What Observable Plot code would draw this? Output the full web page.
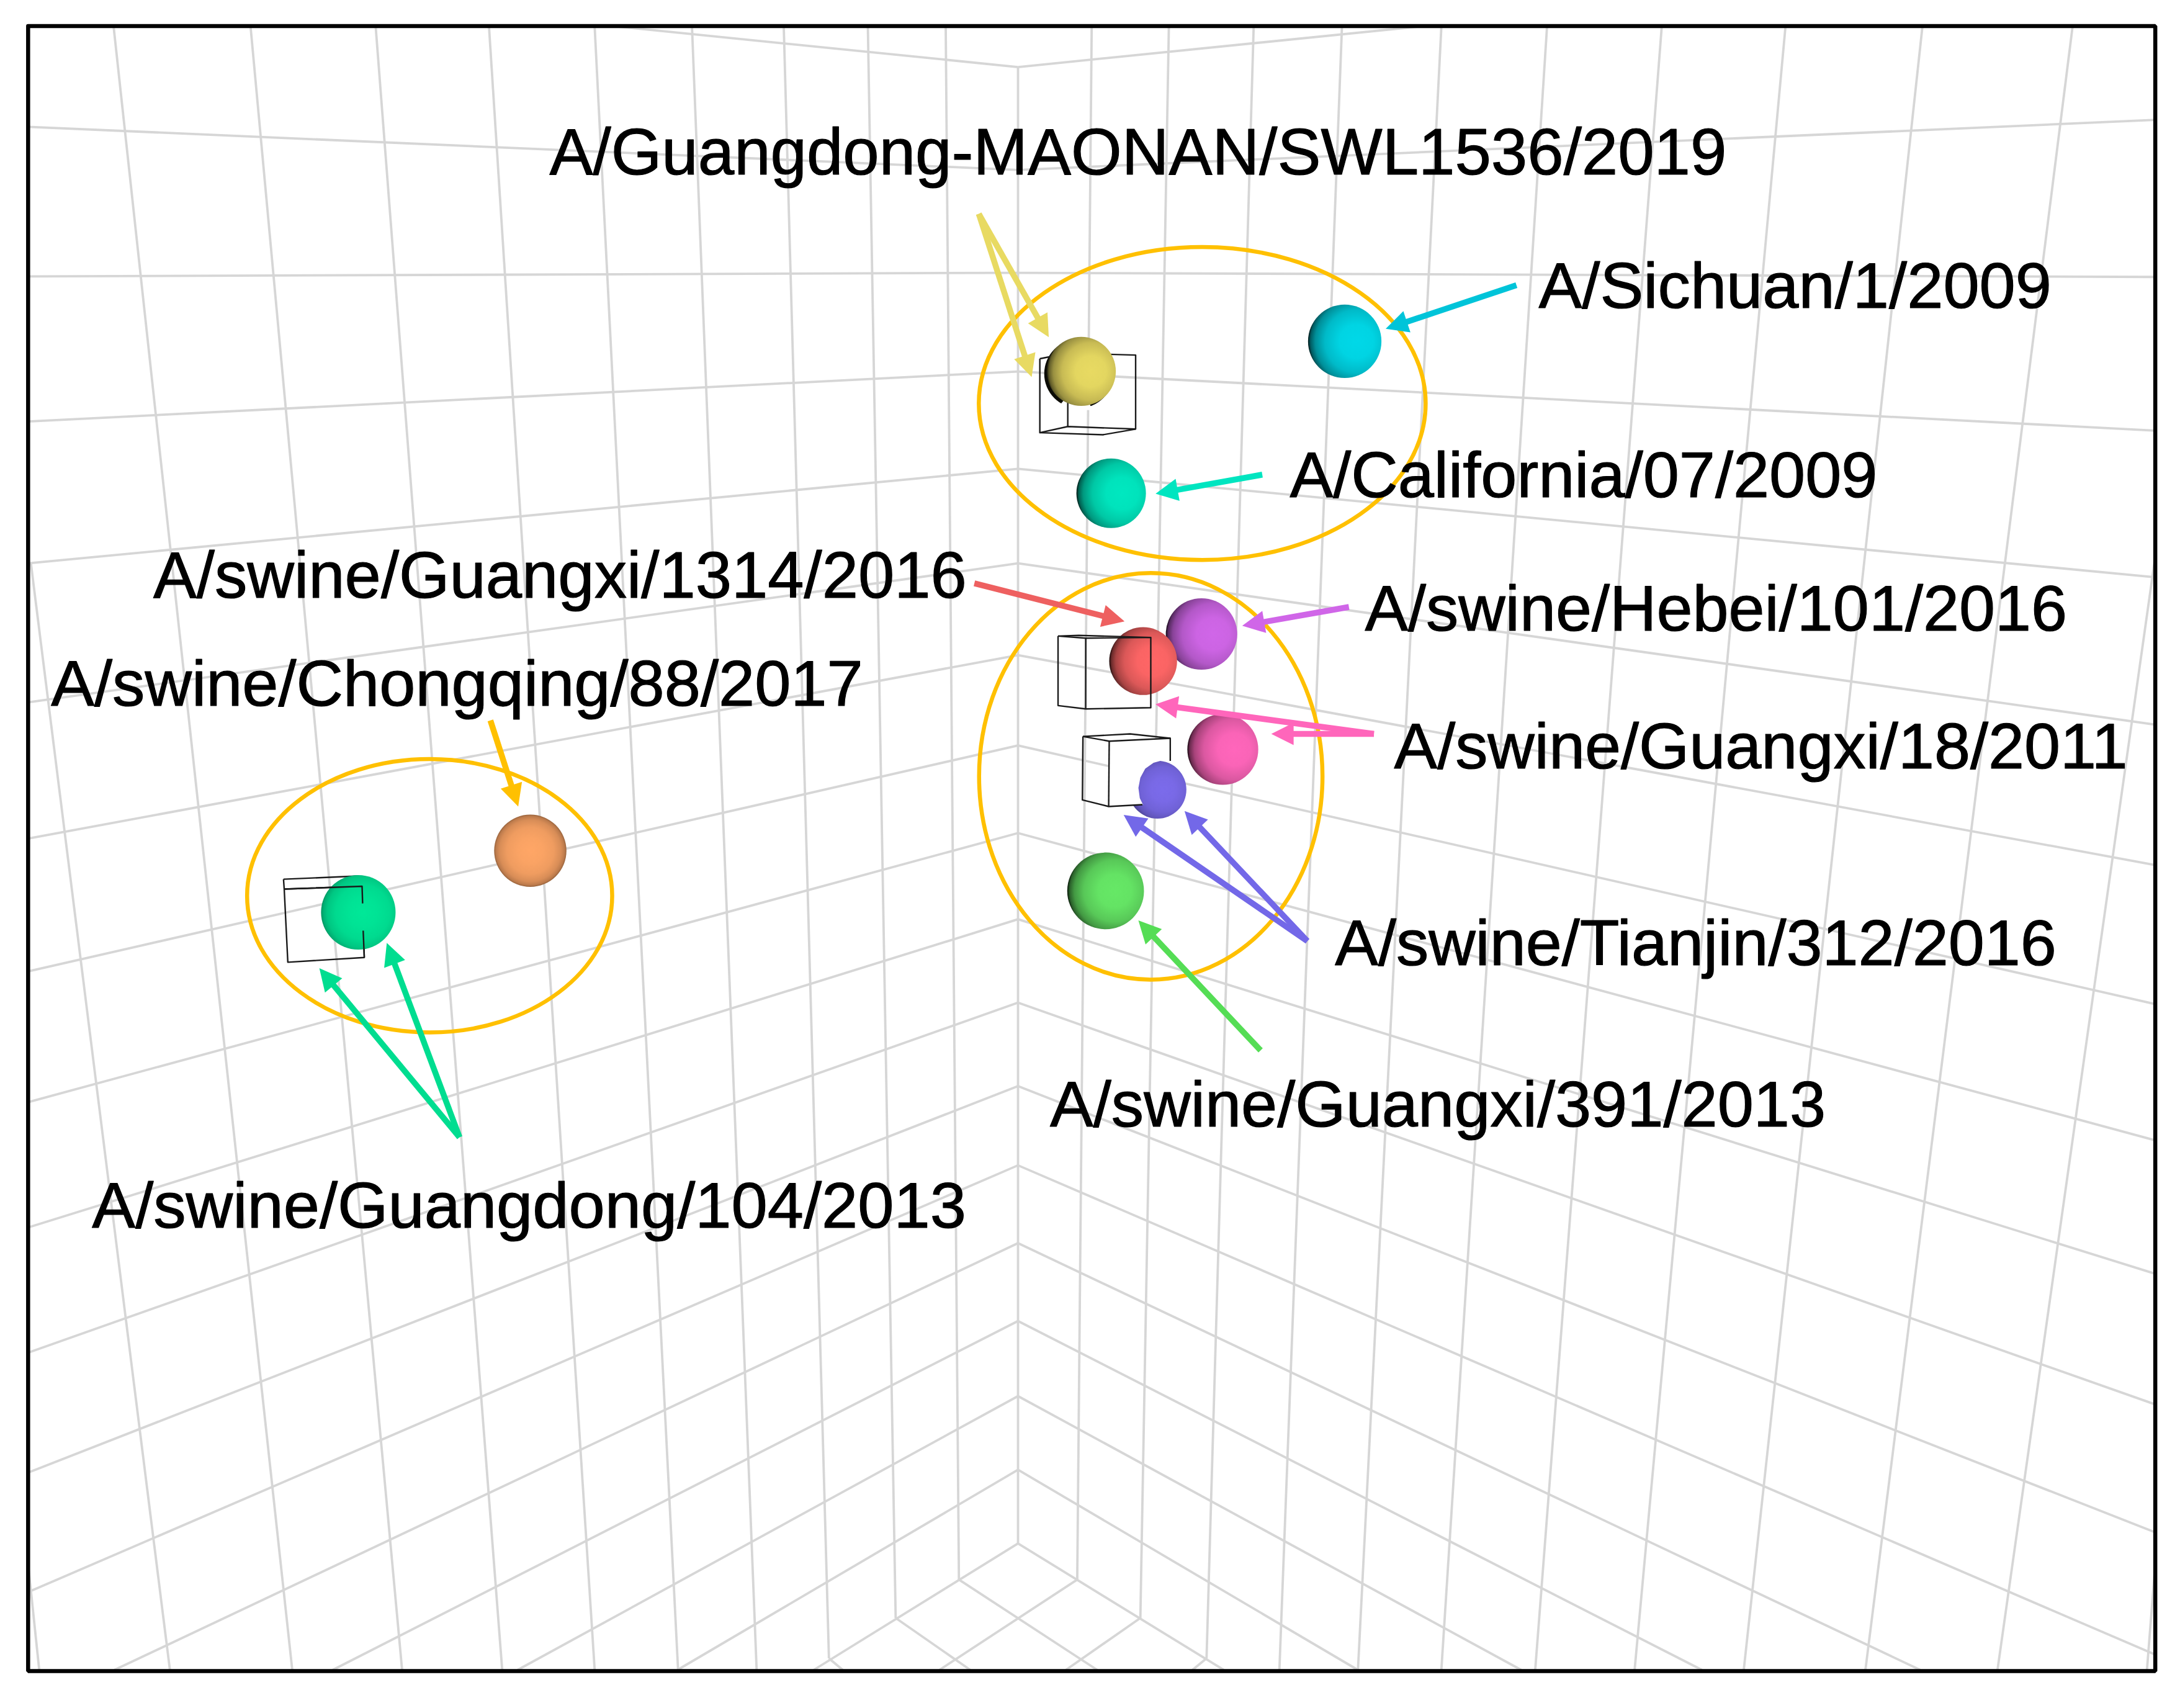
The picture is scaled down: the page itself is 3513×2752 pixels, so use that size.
<!DOCTYPE html>
<html><head><meta charset="utf-8">
<script src="https://cdn.jsdelivr.net/npm/d3@7"></script>
<script src="https://cdn.jsdelivr.net/npm/@observablehq/plot@0.6"></script>
<style>html,body{margin:0;padding:0;background:#fff}svg{display:block}</style>
</head><body><div id="chart"></div>
<script>
// All coordinates in a 1568-wide reading frame
const labelText = ["A/Guangdong-MAONAN/SWL1536/2019","A/Sichuan/1/2009","A/California/07/2009","A/swine/Guangxi/1314/2016","A/swine/Hebei/101/2016","A/swine/Chongqing/88/2017","A/swine/Guangxi/18/2011","A/swine/Tianjin/312/2016","A/swine/Guangxi/391/2013","A/swine/Guangdong/104/2013"];
const labelX = [395,1106.5,927.5,110,981.5,36.5,1002.5,960,755,66];
const labelY = [125.4,221.4,357.3,429.8,453.3,507.4,552.4,693.8,810.2,882.7];
const labelSize = [105,104.7,104.5,104.8,104.4,104.6,104.4,104.4,104.6,104.7];

const sphereX = [775.7,777.5,967,799,822,864,879.3,832.3,795,381.2,257.5];
const sphereY = [268.6,266.9,245.3,354.6,475.3,455.8,538.8,567.8,640.6,611.7,656];
const sphereR = [24.85,24.85,26.4,25,24.4,25.7,25.5,20.8,27.6,26,26.8];
const sphereColor = ["#0c0c06","#E8DA62","#00D8E8","#00E8C0","#FF6666","#D066E8","#FF66BB","#7B6BEB","#66E866","#FFA666","#00E898"];
const sphereGlowX = [.5,.64,.66,.66,.64,.66,.66,.6,.62,.5,.56];
const sphereEdge = [.0,.9,.9,.9,.9,.9,.9,.55,.9,.4,.38];

const ringX = [864.5,827.5,308.8];
const ringY = [290,558.2,644.1];
const ringRX = [160.7,123.5,131.3];
const ringRY = [112.5,146.2,98.3];

const arrowColor = ["#E8DA62","#E8DA62","#00C4D9","#00E5C0","#EE6060","#D066E8","#FF66BB","#FF66BB","#7368E8","#7368E8","#55DD55","#FFC000","#00DD90","#00DD90"];
const arrowFromX = [703.8,703.8,1090.5,907.7,700.6,970,988,988,940.1,940.1,906.5,352.5,330.3,330.3];
const arrowFromY = [153.6,153.6,204.9,341.2,419.4,436.4,527.7,527.7,676.7,676.7,755.3,518,817.8,817.8];
const arrowToX = [754.1,741.8,996.5,831,808.6,893.3,830.9,914.2,808,851.8,818.6,372.5,229.5,278];
const arrowToY = [242.3,270.9,236.3,354.9,446.8,449.9,506.4,527.7,586,583.2,661.9,579.9,696.2,678.1];

// wall rows: [x, y] → [x, y]
const gridRows = [
 [445,19,732,48],[732,48,1019,19],
 [20,91,732,122],[20,198.6,732,196],[20,303,732,267],[20,405,732,337],[20,505,732,405],[20,603,732,471],[20,698.5,732,536],[20,792.6,732,599],[20,882.7,732,661],[20,972.8,732,721],[20,1059,732,781],[20,1145,732,838],
 [82,1201,732,894],[239,1201,732,950],[372,1201,732,1004],[487,1201,732,1057],[585,1201,732,1110],
 [1550,86,732,122],[1550,199,732,196],[1550,309.5,732,267],[1550,415,732,337],[1550,521,732,405],[1550,622,732,471],[1550,722,732,536],[1550,820,732,599],[1550,916,732,661],[1550,1010,732,721],[1550,1102,732,781],[1550,1190,732,838],
 [1381,1201,732,894],[1224,1201,732,950],[1094,1201,732,1004],[976.5,1201,732,1057],[880,1201,732,1110]
];
const gridColumns = [
 [20,1125,28,1201],[22,405,122,1201],[81.5,19,210,1201],[180,19,289,1201],[270,19,361,1201],[351.5,19,427.5,1201],[427.5,19,487.5,1201],[497.5,19,544,1201],[563.5,19,596,1192.6],[624,19,644,1163.6],[680,19,689.5,1136],
 [732,48,732,1110],
 [785,19,774.6,1136],[840.5,19,820,1163.6],[901.5,19,867.6,1192.6],[965,19,920,1201],[1036.5,19,976.5,1201],[1112.5,19,1036.5,1201],[1195,19,1104,1201],[1284,19,1175.5,1201],[1382.5,19,1254,1201],[1490.5,19,1341.5,1201],[1550,400,1436.5,1201],[1550,1125,1544,1201]
];
const gridFloor = [
 [689.5,1136,789,1201],[774.6,1136,675.4,1201],[644,1163.6,697.7,1201],[820,1163.6,766.4,1201],[596,1192.6,606,1201],[867.6,1192.6,857.4,1201]
];

const frameX = [20,1550,1550,20,20];
const frameY = [18.5,18.5,1201.8,1201.8,18.5];

// wire-frame boxes: lists of polylines
const boxBack = [
 [[747.7,257.8],[767.8,253.8],[816.6,255.2],[816.6,308.4],[793.1,312.5],[747.7,311],[747.7,257.8]],
 [[747.7,311],[767.8,306.6],[816.6,308.4]],
 [[767.8,253.8],[767.8,306.6]],
 [[203.7,632.2],[257.2,629.9]],
 [[203.7,632.2],[204.2,639.3],[206.8,691.9],[261.8,688.5],[260.2,637.3],[204.2,639.3]]
];
const boxFront = [
 [[204.2,639.3],[260.2,637.3],[260.6,649.6]],
 [[261,669.2],[261.8,688.5]],
 [[760.8,457.3],[775.7,456.8],[827.5,458.3],[827.5,508.8],[780.7,509.7],[760.8,507.3],[760.8,457.3]],
 [[760.8,457.3],[780.7,458.8],[827.5,458.3]],
 [[780.7,458.8],[780.7,509.7]],
 [[778.7,529.5],[812.6,527.7],[841.5,530.8],[841.5,547.1]],
 [[778.7,529.5],[797.6,532.9],[841.5,530.8]],
 [[778.7,529.5],[778.3,575.2],[797.2,579.9],[821.5,578.6]],
 [[797.6,532.9],[797.2,579.9]]
];
const boxFace = [[798,532.3],[841.5,531.4],[841.5,547.1],[835.9,546.7],[829.5,548.4],[823.5,552.7],[820,559.1],[818.6,566.5],[819.6,573.9],[821.9,578.6],[797.6,579.9]];
const yellowNotch = [[761.6,291.7],[767.5,284.6],[781.2,285.8],[785.7,294.7],[766.3,294.7]];

const fontFamily = "'Liberation Sans', Arial, sans-serif";

function gradientDefs() {
  const defs = d3.create("svg:defs");
  sphereColor.forEach((c, i) => {
    const gx = sphereGlowX[i], e = sphereEdge[i];
    const g = defs.append("radialGradient").attr("id", "ball" + i)
      .attr("cx", gx).attr("cy", .5).attr("r", gx);
    const mix = d3.interpolateRgb(c, "#000");
    [[0,0],[.35,.02],[.65,.14*e/.9],[.85,.34*e/.9],[.95,.58*e/.9],[1,e]].forEach(([o, t]) =>
      g.append("stop").attr("offset", o).attr("stop-color", mix(t)));
  });
  return defs.node();
}
const arrowHead = (color) => {
  const m = d3.create("svg:marker")
    .attr("viewBox", "-40 -40 80 80").attr("markerWidth", 80).attr("markerHeight", 80)
    .attr("markerUnits", "userSpaceOnUse").attr("refX", 0).attr("refY", 0).attr("orient", "auto");
  m.append("path").attr("d", "M18,0L-18,-18L-18,18Z").attr("fill", color);
  return m.node();
};
const oval = (aspect) => ({draw(ctx, size) {
  const b = Math.sqrt(size / Math.PI), a = b * aspect, k = 0.5523;
  ctx.moveTo(a, 0);
  ctx.bezierCurveTo(a, k*b, k*a, b, 0, b);
  ctx.bezierCurveTo(-k*a, b, -a, k*b, -a, 0);
  ctx.bezierCurveTo(-a, -k*b, -k*a, -b, 0, -b);
  ctx.bezierCurveTo(k*a, -b, a, -k*b, a, 0);
  ctx.closePath();
}});

const seg = (rows, opts) => Plot.link(rows, {x1: d => d[0], y1: d => d[1], x2: d => d[2], y2: d => d[3], ...opts});
const wire = (lists) => Plot.line(lists.flatMap((pts, k) => pts.map(p => ({x: p[0], y: p[1], k}))),
  {x: "x", y: "y", z: "k", stroke: "#1a1a1a", strokeWidth: 2.4, curve: "linear", strokeLinecap: "butt"});
const patch = (pts) => Plot.line(pts, {x: d => d[0], y: d => d[1], fill: "#fff", stroke: "none", curve: "linear"});
const balls = (ids) => Plot.dot(ids, {x: i => sphereX[i], y: i => sphereY[i], r: i => sphereR[i], fill: i => `url(#ball${i})`, stroke: "none"});

const arrows = arrowColor.map((c, i) => {
  const dx = arrowToX[i]-arrowFromX[i], dy = arrowToY[i]-arrowFromY[i], n = Math.hypot(dx, dy);
  return {c, x1: arrowFromX[i], y1: arrowFromY[i], x2: arrowToX[i]-dx/n*8, y2: arrowToY[i]-dy/n*8};
});
const gridStyle = {stroke: "#d6d6d6", strokeWidth: 3.8};

const chart = Plot.plot({
  width: 3513, height: 2752,
  marginTop: 0, marginRight: 0, marginBottom: 0, marginLeft: 0,
  x: {domain: [0, 1568], range: [0, 3513], axis: null},
  y: {domain: [0, 1228.57], range: [0, 2752], axis: null},
  r: {type: "linear", domain: [0, 1568], range: [0, 3513]},
  color: {type: "identity"},
  style: {background: "#fff", overflow: "visible"},
  marks: [
    gradientDefs,
    seg(gridRows, gridStyle),
    seg(gridColumns, gridStyle),
    seg(gridFloor, gridStyle),
    balls([0]),
    patch(yellowNotch),
    wire(boxBack),
    balls(d3.range(1, sphereX.length)),
    patch(boxFace),
    wire(boxFront),
    ...ringX.map((x, i) => Plot.dot([i], {x: () => x, y: () => ringY[i], r: () => ringRY[i],
      symbol: oval(ringRX[i] / ringRY[i]), fill: "none", stroke: "#FFC000", strokeWidth: 6.5})),
    Plot.link(arrows, {x1: "x1", y1: "y1", x2: "x2", y2: "y2", stroke: "c", strokeWidth: 9.5, strokeLinecap: "butt", markerEnd: arrowHead}),
    Plot.line(frameX.map((x, i) => [x, frameY[i]]), {x: d => d[0], y: d => d[1], stroke: "#000", strokeWidth: 6.5, curve: "linear", strokeLinejoin: "miter"}),
    ...labelText.map((t, i) => Plot.text([t], {x: () => labelX[i], y: () => labelY[i], text: d => d, textAnchor: "start", lineAnchor: "bottom",
      fontSize: labelSize[i], fontFamily, fill: "#000", stroke: "#000", strokeWidth: 1.2}))
  ]
});
document.getElementById("chart").append(chart);
</script></body></html>
